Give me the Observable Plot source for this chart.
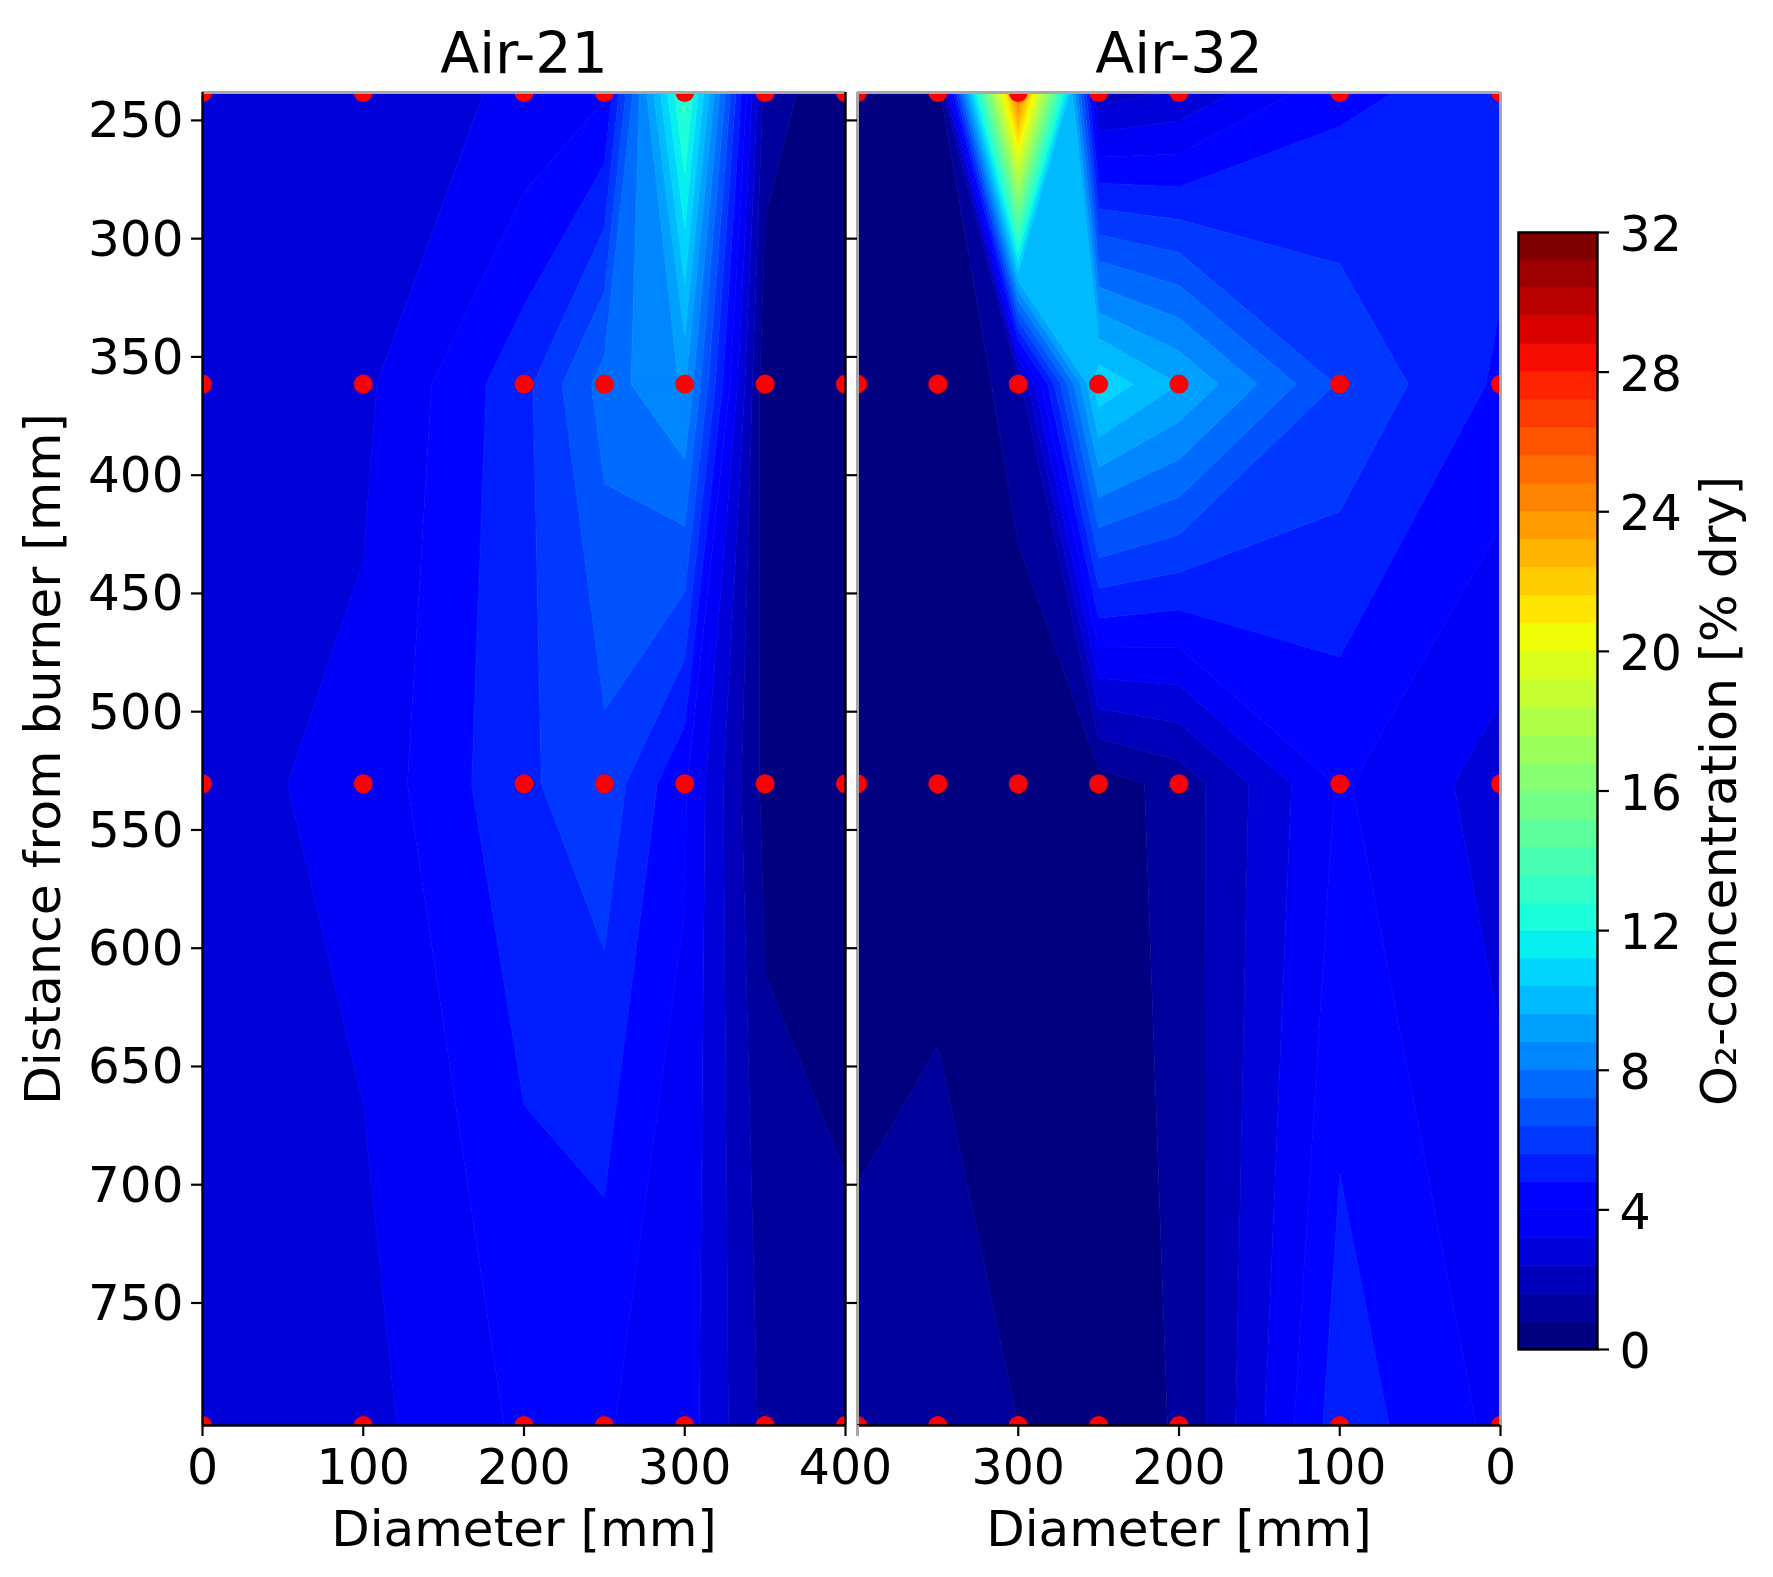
<!DOCTYPE html>
<html>
<head>
<meta charset="utf-8">
<script src="https://cdn.jsdelivr.net/npm/d3@7"></script>
<script src="https://cdn.jsdelivr.net/npm/@observablehq/plot@0.6"></script>
<style>
  html, body { margin: 0; padding: 0; background: #fff; }
  #chart { position: relative; width: 1773px; height: 1577px; overflow: hidden; filter: blur(0.6px); }
  #chart svg { position: absolute; left: 0; top: 0; background: transparent; overflow: visible; }
</style>
</head>
<body>
<div id="chart"></div>
<script>
// Measurement grid
const diameters = [0, 100, 200, 250, 300, 350, 400];
const distances = [238.2, 361.5, 530.5, 801.8];

// O2 concentration [% dry], one row per distance, one value per diameter
const air21Row238 = [2.6, 2.9, 3.3, 3.9, 13.2, 1.25, 0.1];
const air21Row361 = [2.7, 3.0, 5.35, 7.55, 8.9, 0.2, 0.1];
const air21Row530 = [2.92, 3.45, 5.45, 6.14, 4.1, 0.55, 0.1];
const air21Row801 = [2.6, 2.95, 4.15, 4.06, 3.6, 1.39, 1.25];

const air32Row238 = [5.2, 4.6, 2.5, 2.0, 25, 0, 0];
const air32Row361 = [4.65, 6.3, 9.6, 11, 1.2, 0, 0];
const air32Row530 = [2.83, 4.1, 1.1, 0.4, 0.2, 0.35, 0.3];
const air32Row801 = [3.78, 5.25, 0.85, 0.5, 0.8, 1.45, 1.1];

const titles = ["Air-21", "Air-32"];
const xLabel = "Diameter [mm]";
const yLabel = "Distance from burner [mm]";
const barLabel = "O₂-concentration [% dry]";
const yTicks = [250, 300, 350, 400, 450, 500, 550, 600, 650, 700, 750];
const xTicksLeft = [0, 100, 200, 300, 400];
const xTicksRight = [300, 200, 100, 0];
const barTicks = [0, 4, 8, 12, 16, 20, 24, 28, 32];
const yDomain = [distances[0], distances[distances.length - 1]];
const barDomain = [0, 32];

const FONT = "DejaVu Sans";
const GRAY = "#a8a8a8";

// 40 filled levels between 0 and 32
const levels = d3.range(41).map(i => +(i * 0.8).toFixed(1));

// matplotlib "jet", sampled once per band
function jet(t) {
  const seg = (pts) => {
    for (let i = 1; i < pts.length; i++) {
      if (t <= pts[i][0]) {
        const [a, va] = pts[i - 1], [b, vb] = pts[i];
        return va + (vb - va) * (t - a) / (b - a);
      }
    }
    return pts[pts.length - 1][1];
  };
  const r = seg([[0, 0], [0.35, 0], [0.66, 1], [0.89, 1], [1, 0.5]]);
  const g = seg([[0, 0], [0.125, 0], [0.375, 1], [0.64, 1], [0.91, 0], [1, 0]]);
  const b = seg([[0, 0.5], [0.11, 1], [0.34, 1], [0.65, 0], [1, 0]]);
  return d3.rgb(r * 255, g * 255, b * 255).formatHex();
}
const bandColors = d3.range(40).map(i => jet(i / 39));
const colorScale = { type: "threshold", domain: levels.slice(1, -1), range: bandColors };

// Filled contour bands on the non-uniform measurement grid: each grid cell is
// cut along straight lines between linear edge crossings. The mean of the four
// corners decides how the pieces of a band join inside the cell (saddles).
function cellBand(corners, lo, hi) {
  const seq = [];
  corners.forEach((a, k) => {
    const b = corners[(k + 1) % 4];
    seq.push(a.v < lo ? "below" : a.v >= hi ? "above" : [a.x, a.y]);
    const cuts = [lo, hi].filter(l => (a.v < l && b.v > l) || (a.v > l && b.v < l))
      .map(l => (l - a.v) / (b.v - a.v)).sort((p, q) => p - q);
    cuts.forEach(t => seq.push([a.x + (b.x - a.x) * t, a.y + (b.y - a.y) * t]));
  });
  if (!seq.some(Array.isArray)) return [];
  const mean = d3.mean(corners, c => c.v);
  const splitAt = mean < lo ? "below" : mean >= hi ? "above" : null;
  const start = splitAt ? seq.indexOf(splitAt) : -1;
  const pieces = [];
  let cur = [];
  for (let k = 1; k <= seq.length; k++) {
    const p = seq[(Math.max(start, 0) + k) % seq.length];
    if (Array.isArray(p)) cur.push(p);
    else if (p === splitAt && start >= 0) { pieces.push(cur); cur = []; }
  }
  if (cur.length) pieces.push(cur);
  return pieces.filter(a => a.length > 2).map(a => [[...a, a[0]]]);
}
function bandFeatures(rows) {
  return levels.slice(0, -1).map((lo, n) => {
    const hi = levels[n + 1];
    const coordinates = [];
    for (let j = 0; j + 1 < distances.length; j++) {
      for (let i = 0; i + 1 < diameters.length; i++) {
        // the tiny offset keeps a reading from sitting exactly on a level
        const corners = [[i, j], [i + 1, j], [i + 1, j + 1], [i, j + 1]]
          .map(([c, r]) => ({ x: diameters[c], y: distances[r], v: rows[r][c] + 1e-6 }));
        coordinates.push(...cellBand(corners, lo, hi));
      }
    }
    return { type: "Feature", properties: { lo }, geometry: { type: "MultiPolygon", coordinates } };
  }).filter(f => f.geometry.coordinates.length);
}
function gridPoints() {
  return distances.flatMap(z => diameters.map(d => ({ d, z })));
}

const air21Rows = [air21Row238, air21Row361, air21Row530, air21Row801];
const air32Rows = [air32Row238, air32Row361, air32Row530, air32Row801];

function panel({ rows, title, xDomain, xTicks, marginLeft, marginRight, left }) {
  const edge = left ? "black" : GRAY;
  const tickOpts = { tickSize: 11, tickFormat: () => "", label: null, strokeWidth: 2.2 };
  return Plot.plot({
    width: 1773, height: 1577,
    marginLeft, marginRight, marginTop: 92, marginBottom: 152,
    style: { fontFamily: FONT, background: "transparent", overflow: "visible" },
    x: { domain: xDomain },
    y: { domain: yDomain, reverse: true },
    color: colorScale,
    marks: [
      Plot.geo(bandFeatures(rows), {
        fill: d => d.properties.lo, stroke: d => d.properties.lo, strokeWidth: 0.7, clip: "frame"
      }),
      Plot.dot(gridPoints(), { x: "d", y: "z", r: 9.5, fill: "#ff0000", stroke: "none", clip: "frame" }),
      Plot.ruleY([yDomain[0]], { stroke: GRAY, strokeWidth: 3 }),
      Plot.ruleX([xDomain[0]], { stroke: edge, strokeWidth: left ? 2.4 : 3 }),
      Plot.ruleX([xDomain[1]], { stroke: edge, strokeWidth: left ? 2.4 : 3 }),
      Plot.ruleY([yDomain[1]], { stroke: "black", strokeWidth: 2.4 }),
      // x axis: ticks, tick labels, axis title
      Plot.axisX({ ...tickOpts, anchor: "bottom", ticks: xTicks }),
      Plot.axisX({ anchor: "bottom", ticks: xTicks, tickSize: 0, tickPadding: 24, fontSize: 49, label: null }),
      Plot.axisX({ anchor: "bottom", ticks: [], label: xLabel, labelAnchor: "center", labelArrow: "none", labelOffset: 120, fontSize: 50 }),
      left ? null : Plot.axisX({ ...tickOpts, anchor: "bottom", ticks: [400], stroke: GRAY, strokeWidth: 3 }),
      // y axis
      Plot.axisY({ ...tickOpts, anchor: "left", ticks: yTicks }),
      left ? Plot.axisY({ anchor: "left", ticks: yTicks, tickSize: 0, tickPadding: 19, dy: 1, fontSize: 50, label: null }) : null,
      left ? Plot.axisY({ anchor: "left", ticks: [], label: yLabel, labelAnchor: "center", labelArrow: "none", labelOffset: 178, fontSize: 50.5 }) : null,
      Plot.text([title], { frameAnchor: "top", lineAnchor: "middle", dy: -38, fontSize: 57, text: d => d, fill: "black" })
    ]
  });
}

const chart = document.getElementById("chart");
chart.append(panel({ rows: air21Rows, title: titles[0], xDomain: [0, 400], xTicks: xTicksLeft, marginLeft: 202, marginRight: 928, left: true }));
chart.append(panel({ rows: air32Rows, title: titles[1], xDomain: [400, 0], xTicks: xTicksRight, marginLeft: 857, marginRight: 273, left: false }));

const bands = levels.slice(0, -1).map((lo, i) => ({ lo, hi: levels[i + 1] }));
chart.append(Plot.plot({
  width: 1773, height: 1577,
  marginLeft: 1518, marginRight: 176, marginTop: 232, marginBottom: 228,
  style: { fontFamily: FONT, background: "transparent", overflow: "visible" },
  x: { domain: [0, 1], axis: null },
  y: { domain: barDomain },
  color: colorScale,
  marks: [
    Plot.rect(bands, { x1: 0, x2: 1, y1: "lo", y2: "hi", fill: "lo", stroke: "lo", strokeWidth: 0.6 }),
    Plot.frame({ stroke: "black", strokeWidth: 2.4 }),
    Plot.axisY({ anchor: "right", ticks: barTicks, tickSize: 11, tickFormat: () => "", label: null, strokeWidth: 2.2 }),
    Plot.axisY({ anchor: "right", ticks: barTicks, tickSize: 0, tickPadding: 22, dy: 3, fontSize: 49, label: null }),
    Plot.axisY({ anchor: "right", ticks: [], label: barLabel, labelAnchor: "center", labelArrow: "none", labelOffset: 138, fontSize: 50.5 })
  ]
}));
</script>
</body>
</html>
